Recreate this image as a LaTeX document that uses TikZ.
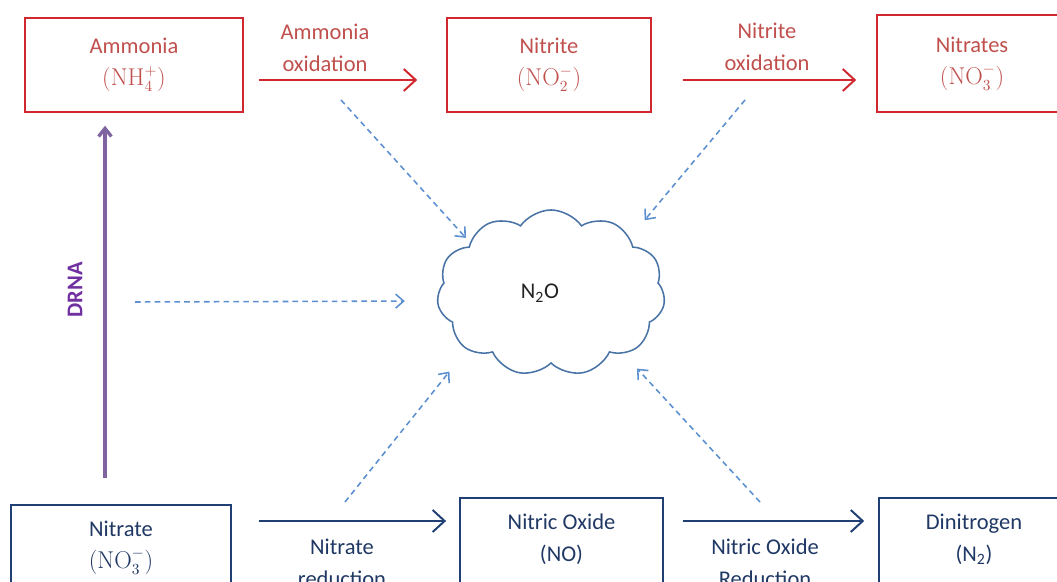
\documentclass[tikz,border=0pt]{standalone}
\usepackage[no-math]{fontspec}
\setmainfont{Carlito}
\usepackage{tikz}
\usetikzlibrary{
  arrows.meta,
  positioning,
  shapes.symbols,
  calc
}
\definecolor{FigText}{HTML}{222222}
\definecolor{FigRed}{HTML}{D0282C}
\definecolor{FigRedText}{HTML}{C0504D}
\definecolor{FigNavy}{HTML}{203F75}
\definecolor{FigNavyText}{HTML}{1F3864}
\definecolor{FigDash}{HTML}{5B8FD0}
\definecolor{FigCloud}{HTML}{4A74A6}
\definecolor{FigPurple}{HTML}{8064A2}
\definecolor{FigPurpleText}{HTML}{7030A0}

\begin{document}
\begin{tikzpicture}[
x=0.025cm, y=-0.025cm,
font=\fontsize{16}{22.7}\selectfont,
highbox/.style={
draw=FigRed,
line width=1.1pt,
minimum height=2.35cm,
align=center,
text=FigRedText
},
lowbox/.style={
draw=FigNavy,
line width=1.1pt,
anchor=north,
inner ysep=0.4cm,
text depth=1.5cm,
align=center,
text=FigNavyText
},
redlabel/.style={align=center, text=FigRedText},
navylabel/.style={align=center, text=FigNavyText},
redarrow/.style={
draw=FigRed,
line width=1.4pt,
-{Straight Barb[length=0.3cm, width=0.55cm]}
},
navyarrow/.style={
draw=FigNavy,
line width=1.4pt,
-{Straight Barb[length=0.3cm, width=0.55cm]}
},
dasharrow/.style={
draw=FigDash,
line width=1.1pt,
dash pattern=on 4pt off 3pt,
-{Straight Barb[length=0.2cm, width=0.35cm]}
},
drnaarrow/.style={
draw=FigPurple,
line width=2.4pt,
-{Straight Barb[length=0.2cm, width=0.32cm]}
}
]
\useasboundingbox (0,0) rectangle (1057,582);

% Oxidation row
\node[highbox, minimum width=5.45cm] (amm) at (134,65) {Ammonia\\$(\mathrm{NH}_4^+)$};
\node[highbox, minimum width=5.1cm] (nii) at (549,65) {Nitrite\\$(\mathrm{NO}_2^-)$};
\node[highbox, minimum width=4.75cm, minimum height=2.43cm] (nia) at (972,63.5) {Nitrates\\$(\mathrm{NO}_3^-)$};

\node[redlabel] (amox) at (325,48) {Ammonia\\oxidation};
\node[redlabel] (niox) at (767,47) {Nitrite\\oxidation};

\draw[redarrow] ($(amm.east)+(15,15)$) -- ($(nii.west)+(-29,15)$);
\draw[redarrow] ($(nii.east)+(31,15)$) -- ($(nia.west)+(-20,16.5)$);

% Reduction row - boxes run off the bottom edge
\node[lowbox, minimum width=5.5cm] (nat) at (121,504) {Nitrate\\$(\mathrm{NO}_3^-)$};
\node[lowbox, minimum width=5.08cm] (nox) at (561.5,497) {Nitric Oxide\\(NO)};
\node[lowbox, minimum width=4.75cm] (din) at (974,497) {Dinitrogen\\(N\textsubscript{2})};

\node[navylabel] (natred) at (342,563) {Nitrate\\reduction};
\node[navylabel] (noxred) at (765,563) {Nitric Oxide\\Reduction};

\draw[navyarrow] ($(nat.north east)+(27,17)$) -- ($(nox.north west)+(-13,24)$);
\draw[navyarrow] ($(nox.north east)+(19,24)$) -- ($(din.north west)+(-14,24)$);

% DRNA
\draw[drnaarrow] ($(nat.north)+(-16,-26)$) -- ($(amm.south)+(-29,13)$);
\node[rotate=90, text=FigPurpleText, font=\fontsize{16}{20}\selectfont\bfseries] (drna) at (75,290) {DRNA};

% N2O cloud and its sources
\node[cloud, draw=FigCloud, line width=1.1pt, cloud puffs=11, cloud puff arc=110, aspect=1.4,
minimum width=5.7cm, minimum height=4.15cm, text=FigText] (n2o) at (551,293) {N\textsubscript{2}O\hspace*{0.55cm}};

\coordinate (fromamm) at (341,100);
\coordinate (fromnii) at (745,100);
\coordinate (fromdrna) at (135,302);
\coordinate (fromnat) at (345,502);
\coordinate (fromnox) at (760,502);

\draw[dasharrow, shorten >=0.15cm] (fromamm) -- (n2o.148);
\draw[dasharrow, shorten >=0.57cm] (fromnii) -- (n2o.35);
\draw[dasharrow, shorten >=0.8cm] (fromdrna) -- (n2o.184);
\draw[dasharrow, shorten >=0.7cm] (fromnat) -- (n2o.214);
\draw[dasharrow, shorten >=0.5cm] (fromnox) -- (n2o.320);

\end{tikzpicture}
\end{document}
